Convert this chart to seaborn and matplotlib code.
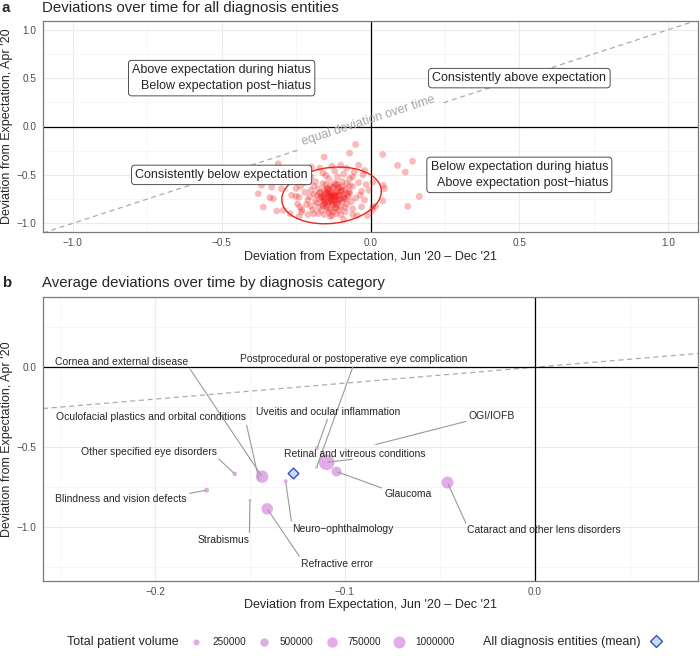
import numpy as np
import matplotlib
matplotlib.use("Agg")
import matplotlib.pyplot as plt
import pandas as pd
import seaborn as sns
from matplotlib.lines import Line2D
from matplotlib.text import Text
from matplotlib.ticker import FuncFormatter, MultipleLocator

# Panel a: deviation of every diagnosis entity (x = Jun '20 - Dec '21, y = Apr '20)
entity_post = [
    -0.140, -0.130, -0.150, -0.120, -0.160, -0.110, -0.145, -0.135, -0.170, -0.100,
    -0.155, -0.125, -0.180, -0.090, -0.140, -0.115, -0.165, -0.105, -0.190, -0.080,
    -0.130, -0.200, -0.070, -0.150, -0.120, -0.175, -0.095, -0.060, -0.210, -0.085,
    -0.155, -0.220, -0.050, -0.110, -0.140, -0.185, -0.070, -0.040, -0.230, -0.100,
    -0.190, -0.240, -0.030, -0.060, -0.160, -0.120, -0.090, -0.200, -0.250, -0.020,
    -0.245, -0.030, -0.080, -0.130, -0.055, -0.170, -0.220, -0.045, -0.210, -0.135,
    -0.115, -0.145, -0.125, -0.155, -0.135, -0.105, -0.165, -0.115, -0.175, -0.095,
    -0.145, -0.125, -0.185, -0.075, -0.155, -0.105, -0.195, -0.085, -0.160, -0.135,
    -0.140, -0.130, -0.150, -0.120, -0.110, -0.160, -0.170, -0.100, -0.140, -0.125,
    -0.090, -0.065, -0.205, -0.115, -0.135, -0.080, -0.190, -0.215, -0.035, -0.175,
    -0.060, -0.235, -0.250, -0.015, -0.025, -0.250, -0.005, -0.240, -0.095, -0.145,
    -0.105, -0.155, -0.130, -0.120, -0.160, -0.085, -0.180, -0.115, -0.070, -0.200,
    -0.150, -0.100, -0.060, -0.366, -0.377, -0.360, -0.327, -0.315, -0.293, -0.332,
    -0.299, -0.310, -0.198, -0.156, -0.050, -0.070, 0.041, 0.091, 0.141, 0.117,
    0.043, 0.047, 0.041, 0.008, 0.006, 0.164, 0.125, 0.017, -0.265, -0.237,
    -0.232, -0.280, -0.249, -0.020, 0.008, -0.338, -0.040, -0.270, -0.010, -0.090,
    -0.132, -0.118, -0.142, -0.108, -0.128, -0.138, -0.112, -0.122, -0.148, -0.098,
    -0.132, -0.102, -0.158, -0.088, -0.128, -0.118, -0.142, -0.108, -0.078, -0.168,
    -0.136, -0.116, -0.126, -0.146, -0.094, -0.152, -0.084, -0.112, -0.162, -0.072,
]
entity_hiatus = [
    -0.780, -0.800, -0.760, -0.750, -0.820, -0.790, -0.850, -0.720, -0.740, -0.830,
    -0.700, -0.880, -0.790, -0.740, -0.660, -0.690, -0.870, -0.630, -0.700, -0.800,
    -0.920, -0.820, -0.690, -0.600, -0.580, -0.640, -0.570, -0.620, -0.760, -0.880,
    -0.910, -0.680, -0.740, -0.520, -0.540, -0.570, -0.540, -0.580, -0.860, -0.910,
    -0.900, -0.730, -0.670, -0.850, -0.480, -0.460, -0.490, -0.520, -0.640, -0.760,
    -0.800, -0.830, -0.430, -0.410, -0.470, -0.430, -0.580, -0.920, -0.910, -0.930,
    -0.840, -0.815, -0.765, -0.795, -0.745, -0.710, -0.725, -0.810, -0.835, -0.775,
    -0.685, -0.630, -0.770, -0.720, -0.655, -0.860, -0.860, -0.650, -0.590, -0.860,
    -0.730, -0.775, -0.830, -0.720, -0.765, -0.770, -0.685, -0.670, -0.885, -0.810,
    -0.705, -0.775, -0.725, -0.600, -0.610, -0.590, -0.615, -0.805, -0.710, -0.900,
    -0.910, -0.620, -0.560, -0.600, -0.500, -0.720, -0.660, -0.930, -0.620, -0.640,
    -0.755, -0.745, -0.690, -0.840, -0.810, -0.835, -0.710, -0.900, -0.610, -0.660,
    -0.505, -0.400, -0.520, -0.608, -0.694, -0.832, -0.745, -0.873, -0.866, -0.626,
    -0.643, -0.385, -0.420, -0.316, -0.186, -0.275, -0.289, -0.402, -0.358, -0.471,
    -0.608, -0.643, -0.770, -0.832, -0.866, -0.722, -0.825, -0.825, -0.711, -0.832,
    -0.883, -0.550, -0.454, -0.454, -0.574, -0.735, -0.400, -0.900, -0.920, -0.960,
    -0.722, -0.718, -0.702, -0.708, -0.735, -0.672, -0.662, -0.688, -0.692, -0.678,
    -0.752, -0.752, -0.722, -0.732, -0.632, -0.782, -0.782, -0.632, -0.692, -0.682,
    -0.700, -0.726, -0.712, -0.648, -0.658, -0.772, -0.748, -0.598, -0.738, -0.672,
]

# Panel b: diagnosis categories
categories = [
    "Cornea and external disease",
    "Postprocedural or postoperative eye complication",
    "Oculofacial plastics and orbital conditions",
    "Uveitis and ocular inflammation",
    "OGI/IOFB",
    "Other specified eye disorders",
    "Retinal and vitreous conditions",
    "Blindness and vision defects",
    "Glaucoma",
    "Neuro\u2212ophthalmology",
    "Cataract and other lens disorders",
    "Strabismus",
    "Refractive error",
]
cat_post = [-0.1436, -0.1149, -0.1453, -0.1146, -0.0842, -0.1580, -0.1096,
            -0.1728, -0.1044, -0.1312, -0.0460, -0.1500, -0.1409]
cat_hiatus = [-0.686, -0.627, -0.704, -0.506, -0.486, -0.669, -0.596,
              -0.771, -0.654, -0.714, -0.723, -0.835, -0.8875]
cat_volume = [1080000, 60000, 85000, 110000, 15000, 140000, 1710000,
              170000, 690000, 110000, 1000000, 62000, 920000]
mean_post, mean_hiatus = -0.1275, -0.6625
volume_breaks = [250000, 500000, 750000, 1000000]

quadrant_labels = {
    "Above expectation during hiatus\nBelow expectation post\u2212hiatus": (-0.5, 0.5),
    "Consistently above expectation": (0.5, 0.5),
    "Consistently below expectation": (-0.5, -0.5),
    "Below expectation during hiatus\nAbove expectation post\u2212hiatus": (0.5, -0.5),
}
# repelled label anchors (centres) for panel b
label_pos = [(-0.2174, 0.033), (-0.0953, 0.050), (-0.2021, -0.315), (-0.1087, -0.279),
             (-0.0226, -0.304), (-0.2032, -0.533), (-0.0947, -0.544), (-0.2179, -0.825),
             (-0.0668, -0.794), (-0.1013, -1.0125), (0.0048, -1.023), (-0.164, -1.085),
             (-0.1042, -1.231)]

RED = "#F21B1B"
PURPLE = "#DFA3E6"
K_SIZE = 74.6 / 1e6  # marker area (pt^2) per patient


def minus(v, _pos=None):
    return f"{v:.1f}".replace("-", "\u2212")


def style_axes(ax, major, minor):
    ax.xaxis.set_major_locator(MultipleLocator(major[0]))
    ax.xaxis.set_minor_locator(MultipleLocator(minor[0]))
    ax.yaxis.set_major_locator(MultipleLocator(major[1]))
    ax.yaxis.set_minor_locator(MultipleLocator(minor[1]))
    ax.xaxis.set_major_formatter(FuncFormatter(minus))
    ax.yaxis.set_major_formatter(FuncFormatter(minus))
    ax.grid(which="major", color="#EBEBEB", lw=0.8)
    ax.grid(which="minor", color="#F2F2F2", lw=0.45)
    ax.set_axisbelow(True)
    for s in ax.spines.values():
        s.set_color("#7A7A7A")
        s.set_linewidth(0.9)
    ax.tick_params(which="major", length=2.5, width=0.6, color="#333333",
                   labelsize=7.2, labelcolor="#4D4D4D", pad=2)
    ax.tick_params(which="minor", length=0)
    ax.axhline(0, color="black", lw=0.9, zorder=1.5)
    ax.axvline(0, color="black", lw=0.9, zorder=1.5)


def cov_trob(xy, nu=5, tol=1e-4):
    # robust (multivariate t) location/scatter, as used by stat_ellipse
    n, p = xy.shape
    loc = xy.mean(axis=0)
    w = np.ones(n)
    for _ in range(200):
        w0 = w
        X = xy - loc
        sw = np.sqrt(w / w.sum())
        _, d, vt = np.linalg.svd(sw[:, None] * X, full_matrices=False)
        wX = X @ vt.T @ np.diag(1 / d)
        Q = (wX ** 2).sum(axis=1)
        w = (nu + p) / (nu + Q)
        loc = (w[:, None] * xy).sum(axis=0) / w.sum()
        if np.all(np.abs(w - w0) < tol):
            break
    Xw = np.sqrt(w)[:, None] * X
    return loc, Xw.T @ Xw / n


sns.set_theme(style="white")
plt.rcParams["font.family"] = ["Liberation Sans", "DejaVu Sans"]

fig = plt.figure(figsize=(7, 6.58), dpi=100)

# ---------------- panel a ----------------
df_a = pd.DataFrame({"post": entity_post, "hiatus": entity_hiatus})
ax1 = fig.add_axes([43 / 700, 1 - 232 / 658, 655 / 700, 211 / 658])
ax1.set_xlim(-1.1, 1.1)
ax1.set_ylim(-1.09, 1.09)
style_axes(ax1, (0.5, 0.5), (0.25, 0.25))

diag = np.linspace(-1.1, 1.1, 400)
diag[np.abs(diag) < 0.24] = np.nan
ax1.plot(diag, diag, ls=(0, (4, 3)), color="#ABABAB", lw=0.9, zorder=1.2)
ax1.text(0, 0.0, "equal deviation over time", rotation=45, transform_rotates_text=True,
         rotation_mode="anchor", ha="center", va="bottom", color="#A6A6A6", fontsize=9)

sns.scatterplot(data=df_a, x="post", y="hiatus", color=RED, alpha=0.3, s=24,
                edgecolor="none", ax=ax1, legend=False, zorder=2)

xy = df_a[["post", "hiatus"]].to_numpy()
center, cov = cov_trob(xy)
dfd = len(xy) - 1
f_q = dfd / 2 * (0.05 ** (-2 / dfd) - 1)
radius = np.sqrt(2 * f_q)
t = np.linspace(0, 2 * np.pi, 200)
circle = np.column_stack([np.cos(t), np.sin(t)])
ell = center + radius * circle @ np.linalg.cholesky(cov).T
ax1.plot(ell[:, 0], ell[:, 1], color="#E8281C", lw=1.0, zorder=3)

for txt, (qx, qy) in quadrant_labels.items():
    ax1.text(qx, qy, txt, ha="center", va="center", multialignment="right",
             fontsize=9, linespacing=1.45, zorder=4,
             bbox=dict(boxstyle="round,pad=0.3,rounding_size=0.25", fc="white",
                       ec="#333333", lw=0.6))

ax1.set_xlabel("Deviation from Expectation, Jun '20 \u2013 Dec '21", fontsize=9)
ax1.set_ylabel("Deviation from Expectation, Apr '20", fontsize=9)
ax1.xaxis.set_label_coords(0.5, -25 / 211)
ax1.yaxis.set_label_coords(-36 / 655, 0.5)
ax1.xaxis.label.set_va("center")
ax1.yaxis.label.set_va("center")

# ---------------- panel b ----------------
df_b = pd.DataFrame({"category": categories, "post": cat_post,
                     "hiatus": cat_hiatus, "volume": cat_volume})
ax2 = fig.add_axes([43 / 700, 1 - 581 / 658, 655 / 700, 284 / 658])
ax2.set_xlim(-0.259, 0.086)
ax2.set_ylim(-1.34, 0.44)
style_axes(ax2, (0.1, 0.5), (0.05, 0.25))

diag_b = np.linspace(-0.259, 0.086, 50)
ax2.plot(diag_b, diag_b, ls=(0, (4, 3)), color="#ABABAB", lw=0.9, zorder=1.2)

vmin, vmax = min(cat_volume), max(cat_volume)
sns.scatterplot(data=df_b, x="post", y="hiatus", size="volume",
                sizes=(K_SIZE * vmin, K_SIZE * vmax), size_norm=(vmin, vmax),
                color=PURPLE, alpha=0.9, edgecolor="none", ax=ax2, legend=False, zorder=2)
sns.scatterplot(x=[mean_post], y=[mean_hiatus], marker="D", s=30, color="#BDE3F0",
                edgecolor="#4646C8", linewidth=1.0, ax=ax2, legend=False, zorder=3)

# measure labels first; segments start at the nearest corner / edge midpoint of the box
renderer = fig.canvas.get_renderer()
anchors = [(i, j) for i in (0, 0.5, 1) for j in (0, 0.5, 1) if (i, j) != (0.5, 0.5)]
for name, px, py, (lx, ly) in zip(categories, cat_post, cat_hiatus, label_pos):
    probe = ax2.text(lx, ly, name, ha="center", va="center", fontsize=7.5)
    bb = Text.get_window_extent(probe, renderer)
    probe.remove()
    tx, ty = ax2.transData.transform((px, py))
    rel = min(anchors, key=lambda a: (bb.x0 + a[0] * bb.width - tx) ** 2
              + (bb.y0 + a[1] * bb.height - ty) ** 2)
    ax2.annotate(name, xy=(px, py), xytext=(lx, ly), textcoords="data",
                 ha="center", va="center", fontsize=7.5, zorder=4,
                 arrowprops=dict(arrowstyle="-", color="#9A9A9A", lw=0.8, relpos=rel,
                                 patchA=None, shrinkA=2, shrinkB=1))

ax2.set_xlabel("Deviation from Expectation, Jun '20 \u2013 Dec '21", fontsize=9)
ax2.set_ylabel("Deviation from Expectation, Apr '20", fontsize=9)
ax2.xaxis.set_label_coords(0.5, -24 / 284)
ax2.yaxis.set_label_coords(-36 / 655, 0.5)
ax2.xaxis.label.set_va("center")
ax2.yaxis.label.set_va("center")

# ---------------- titles ----------------
fig.text(2 / 700, 1 - 8 / 658, "a", fontsize=10.8, fontweight="bold", va="center")
fig.text(42 / 700, 1 - 8 / 658, "Deviations over time for all diagnosis entities",
         fontsize=10.8, va="center")
fig.text(2 / 700, 1 - 283 / 658, "b", fontsize=10.8, fontweight="bold", va="center")
fig.text(42 / 700, 1 - 283 / 658, "Average deviations over time by diagnosis category",
         fontsize=10.8, va="center")

# ---------------- legends ----------------
leg_y = 1 - 642 / 658
fig.text(67 / 700, leg_y, "Total patient volume", fontsize=9, va="center")
size_handles = [Line2D([], [], marker="o", ls="", ms=np.sqrt(K_SIZE * v),
                       mfc=PURPLE, mec="none", alpha=0.9) for v in volume_breaks]
fig.legend(size_handles, [str(v) for v in volume_breaks], loc="center left",
           bbox_to_anchor=(190 / 700, leg_y), ncol=4, frameon=False, fontsize=7.2,
           handlelength=1.2, handletextpad=1.0, columnspacing=1.2,
           borderpad=0, borderaxespad=0)
mean_handle = Line2D([], [], marker="D", ls="", ms=6.0, mfc="#BDE3F0",
                     mec="#4646C8", mew=1.0)
fig.legend([mean_handle], ["All diagnosis entities (mean)"], loc="center left",
           bbox_to_anchor=(483 / 700, leg_y), markerfirst=False, frameon=False,
           fontsize=9, handlelength=1.2, handletextpad=0.6, borderpad=0, borderaxespad=0)

fig.savefig("out.png", dpi=100)
